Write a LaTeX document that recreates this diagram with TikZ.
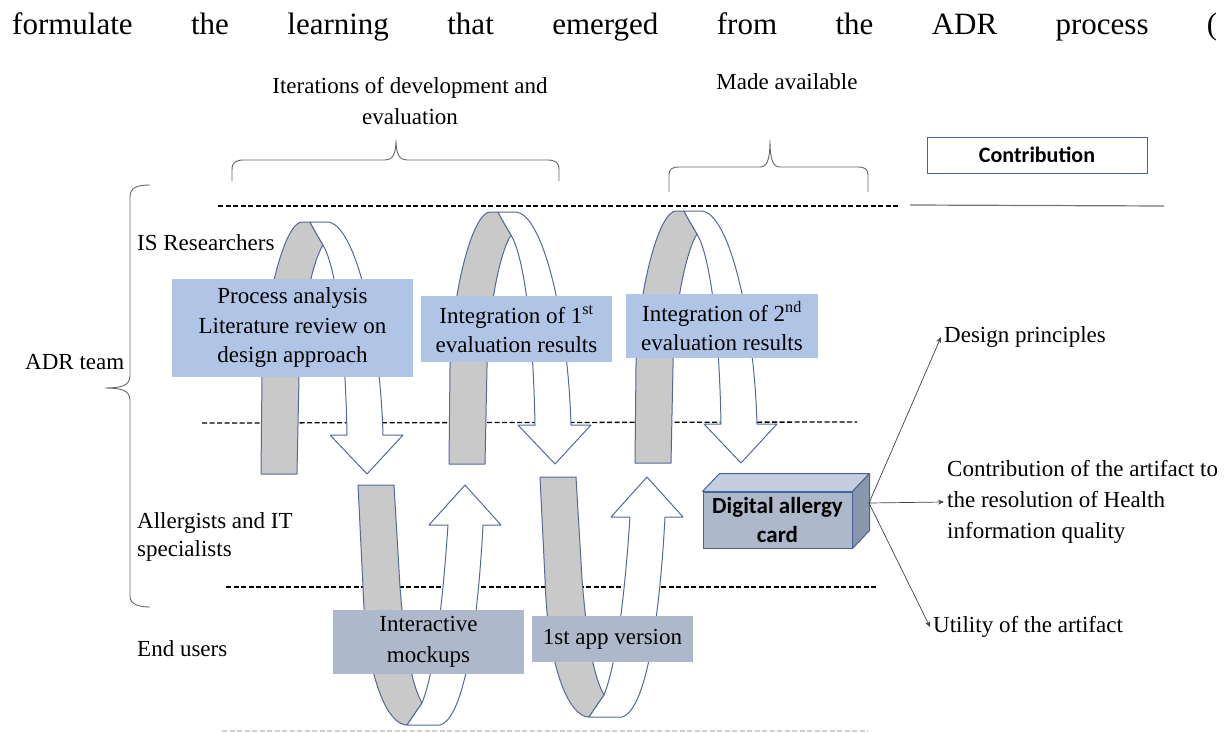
\documentclass[tikz,border=0pt]{standalone}
\usepackage{fontspec}
\setmainfont{Liberation Serif}
\newfontfamily\calibri{Carlito}
\usetikzlibrary{arrows.meta,calc}
\definecolor{boxblue}{RGB}{176,196,230}
\definecolor{boxgray}{RGB}{173,185,202}
\definecolor{loopline}{RGB}{85,105,150}
\definecolor{loopfill}{RGB}{201,201,201}
\definecolor{cubeline}{RGB}{70,100,150}
\definecolor{cubetop}{RGB}{196,206,222}
\definecolor{cubeside}{RGB}{138,151,171}
\tikzset{
  lbl/.style={font=\fontsize{23}{31}\selectfont, inner sep=0pt},
  bluebox/.style={fill=boxblue, inner sep=0pt, align=center, font=\fontsize{23}{29.5}\selectfont},
  graybox/.style={fill=boxgray, inner sep=0pt, align=center, font=\fontsize{23}{31}\selectfont},
  laneline/.style={line width=1.3pt, dash pattern=on 5pt off 2.5pt},
  bracestyle/.style={draw=black!60, line width=0.9pt},
  loopgray/.style={fill=loopfill, draw=loopline, line width=1pt, line join=round},
  loopwhite/.style={fill=white, draw=loopline, line width=1pt, line join=round},
  outarrow/.style={draw=black!75, line width=0.7pt, -{Stealth[length=6pt,width=5pt]}},
}
\newcommand\toploop{%
  \filldraw[loopgray] (261,474) -- (262,377) .. controls (264,300) and (285,222) .. (302,222)
    -- (310,222) .. controls (314,230) and (319,238) .. (323,245)
    .. controls (312,262) and (300,320) .. (299,377) -- (297,474) -- cycle;
  \filldraw[loopwhite] (310,222) -- (327,222) .. controls (355,222) and (380,330) .. (383,435)
    -- (403,435) -- (367,474) -- (330,435) -- (347,435)
    .. controls (345,330) and (335,265) .. (323,245)
    .. controls (319,238) and (314,230) .. (310,222) -- cycle;
}
\newcommand\botloop{%
  \filldraw[loopgray] (358,485) -- (394,485) -- (400,587) .. controls (405,650) and (412,685) .. (422,703)
    -- (407,725) .. controls (388,725) and (366,680) .. (363,587) -- cycle;
  \filldraw[loopwhite] (407,725) -- (440,725) .. controls (465,718) and (478,620) .. (483,525)
    -- (501,525) -- (465,485) -- (429,525) -- (448,525)
    .. controls (443,600) and (435,670) .. (422,703) -- cycle;
}
\begin{document}
\begin{tikzpicture}[x=1pt,y=-1pt]
\useasboundingbox (0,0) rectangle (1229,733);

% first line of running text
\node[anchor=base west, inner sep=0pt, font=\fontsize{31}{31}\selectfont] (intro) at (12,35)
  {\makebox[1205pt][s]{formulate the learning that emerged from the ADR process (}};

% headings
\node[lbl, align=center] (iter) at (410,101) {Iterations of development and\\evaluation};
\node[lbl] (made) at (787,82) {Made available};

% top braces
\draw[bracestyle] (232,181) -- (232,170) .. controls (232,162) and (236,160) .. (244,160) -- (385,160)
  .. controls (392,160) and (396,155) .. (396,140) .. controls (396,155) and (400,160) .. (407,160)
  -- (547,160) .. controls (555,160) and (559,162) .. (559,170) -- (559,181);
\draw[bracestyle] (669,192) -- (669,175) .. controls (669,169) and (672,167) .. (680,167) -- (760,167)
  .. controls (767,167) and (770,160) .. (770,140) .. controls (770,160) and (773,167) .. (780,167)
  -- (857,167) .. controls (865,167) and (868,169) .. (868,175) -- (868,192);

% left brace
\draw[bracestyle] (150,185) .. controls (138,185) and (130,187) .. (130,197) -- (130,376)
  .. controls (130,386) and (120,388) .. (105,388) .. controls (120,388) and (130,390) .. (130,400)
  -- (130,596) .. controls (130,604) and (138,607) .. (150,607);

% contribution
\node[draw=cubeline, fill=white, line width=0.8pt, minimum width=220pt, minimum height=36pt,
  inner sep=0pt, font=\calibri\bfseries\fontsize{22}{24}\selectfont] (contrib) at (1037,155) {Contribution};
\draw[black!55, line width=1.2pt] (910,205) -- (1164,206);

% lane lines
\draw[laneline] (218,206) -- (898,206);
\draw[laneline] (202,423) -- (857,422);
\draw[laneline] (226,587) -- (878,587);
\draw[laneline, black!18] (222,731) -- (868,731);

% lane labels
\node[lbl, anchor=west] (isr) at (137,243) {IS Researchers};
\node[lbl, anchor=west] (adr) at (25,362) {ADR team};
\node[lbl, anchor=west, align=left, font=\fontsize{23}{28}\selectfont] (allerg) at (137,537) {Allergists and IT\\specialists};
\node[lbl, anchor=west] (endu) at (137,649) {End users};

% loops
\toploop
\begin{scope}[shift={(188,-10)}]\toploop\end{scope}
\begin{scope}[shift={(374,-11)}]\toploop\end{scope}
\botloop
\begin{scope}[shift={(182,-8)}]\botloop\end{scope}

% boxes
\node[bluebox, minimum width=241pt, minimum height=98pt] (b1) at (292.5,328)
  {Process analysis\\Literature review on\\design approach};
\node[bluebox, minimum width=191pt, minimum height=66pt] (b2) at (516.5,329)
  {Integration of 1\textsuperscript{st}\\evaluation results};
\node[bluebox, minimum width=192pt, minimum height=64pt] (b3) at (722,326)
  {Integration of 2\textsuperscript{nd}\\evaluation results};
\node[graybox, minimum width=191pt, minimum height=64pt] (b4) at (428.5,642)
  {Interactive\\mockups};
\node[graybox, minimum width=161pt, minimum height=46pt] (b5) at (612.5,639)
  {1st app version};

% cube
\node[fill=boxgray, draw=cubeline, line width=1pt, minimum width=149pt, minimum height=56pt,
  inner sep=0pt, align=center, font=\calibri\bfseries\fontsize{23}{29}\selectfont] (card) at (777.5,520)
  {Digital allergy\\card};
\filldraw[fill=cubetop, draw=cubeline, line width=1pt, line join=round]
  (card.north west) -- ++(17,-18) -- ($(card.north east)+(17,-18)$) -- (card.north east) -- cycle;
\filldraw[fill=cubeside, draw=cubeline, line width=1pt, line join=round]
  (card.north east) -- ++(17,-18) -- ($(card.south east)+(17,-18)$) -- (card.south east) -- cycle;
\coordinate (cr) at (869,503);

% outcomes
\node[lbl, anchor=west, inner sep=3pt] (dp) at (941,337) {Design principles};
\node[lbl, anchor=west, align=left, inner sep=3pt] (cq) at (944,502)
  {Contribution of the artifact to\\the resolution of Health\\information quality};
\node[lbl, anchor=west, inner sep=3pt] (ut) at (930,627) {Utility of the artifact};
\draw[outarrow] (cr) -- (dp.west);
\draw[outarrow] (cr) -- (cq.west);
\draw[outarrow] (cr) -- (ut.west);
\end{tikzpicture}
\end{document}
